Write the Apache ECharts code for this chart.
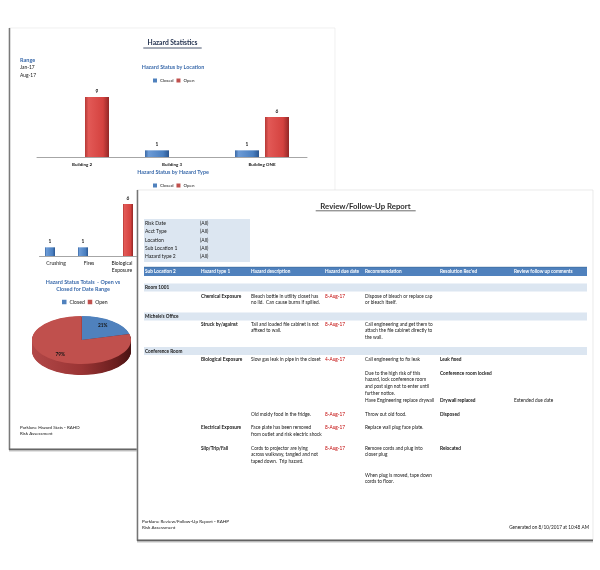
<!DOCTYPE html>
<html><head><meta charset="utf-8">
<script src="https://cdn.jsdelivr.net/npm/echarts@6/dist/echarts.min.js"></script>
<style>html,body{margin:0;padding:0;background:#fff}#c{width:600px;height:570px}</style>
</head><body><div id="c"></div>
<script>
// ---------- data ----------
const seriesNames = ['Closed', 'Open'];
const locationCategories = ['Building 2', 'Building 3', 'Building ONE'];
const locationClosed = ['-', 1, 1];
const locationOpen = [9, '-', 6];
const hazardTypeCategories = ['Crushing', 'Fires', 'Biological\nExposure'];
const hazardTypeClosed = [1, 1, '-'];
const hazardTypeOpen = ['-', '-', 6];
const totalsNames = ['Closed', 'Open'];
const totalsPercent = [21, 79];
const rangeLabels = ['Jan-17', 'Aug-17'];
const filterLabels = ['Risk Date', 'Acct Type', 'Location', 'Sub Location 1', 'Hazard type 2'];
const filterValues = ['(All)', '(All)', '(All)', '(All)', '(All)'];
const tableHeaders = ['Sub Location 2', 'Hazard type 1', 'Hazard description', 'Hazard due date', 'Recommendation', "Resolution Rec'ed", 'Review follow up comments'];
const tableRows = [
  ['group', 'Room 1001'],
  ['', 'Chemical Exposure', 'Bleach bottle in utility closet has\nno lid.  Can cause burns if spilled.', '8-Aug-17', 'Dispose of bleach or replace cap\nor bleach itself.', '', ''],
  ['group', "Michele's Office"],
  ['', 'Struck by/against', 'Tall and loaded file cabinet is not\naffixed to wall.', '8-Aug-17', 'Call engineering and get them to\nattach the file cabinet directly to\nthe wall.', '', ''],
  ['group', 'Conference Room'],
  ['', 'Biological Exposure', 'Slow gas leak in pipe in the closet', '4-Aug-17', 'Call engineering to fix leak', 'Leak fixed', ''],
  ['', '', '', '', 'Due to the high risk of this\nhazard, lock conference room\nand post sign not to enter until\nfurther notice.', 'Conference room locked', ''],
  ['', '', '', '', 'Have Engineering replace drywall', 'Drywall replaced', 'Extended due date'],
  ['', '', 'Old moldy food in the fridge.', '8-Aug-17', 'Throw out old food.', 'Disposed', ''],
  ['', 'Electrical Exposure', 'Face plate has been removed\nfrom outlet and risk electric shock', '8-Aug-17', 'Replace wall plug face plate.', '', ''],
  ['', 'Slip/Trip/Fall', 'Cords to projector are lying\nacross walkway, tangled and not\ntaped down.  Trip hazard.', '8-Aug-17', 'Remove cords and plug into\ncloser plug', 'Relocated', ''],
  ['', '', '', '', 'When plug is moved, tape down\ncords to floor.', '', '']
];

// ---------- layout / style ----------
const F = 'Lato, "Open Sans", sans-serif';
const BLUE = '#4f81bd', RED = '#c0504d', TITLE = '#3a6aab', INK = '#161616';
const colX = [145, 201, 251, 325, 365, 440, 514];
const rowY = [287.5, 296, 316.5, 324, 351, 359, 373, 400, 414, 427.5, 448, 475];
const LH = 6.9;
const BODY = 4.75;

function txt(x, y, s, o) {
  o = o || {};
  const size = o.size || BODY;
  const lh = o.lh || LH;
  return {
    type: 'text', x: x, y: y - lh / 2, z: o.z == null ? 101 : o.z, silent: true,
    style: {
      text: s, x: 0, y: 0,
      font: (o.bold ? 'bold ' : '') + size + 'px ' + F,
      fill: o.color || INK,
      align: o.align || 'left', textAlign: o.align || 'left',
      verticalAlign: 'top', textVerticalAlign: 'top',
      lineHeight: lh
    }
  };
}
function line(x1, y1, x2, y2, color, w, z) {
  return { type: 'line', z: z, silent: true, shape: { x1: x1, y1: y1, x2: x2, y2: y2 }, style: { stroke: color, lineWidth: w } };
}
function rect(x, y, w, h, fill, z, stroke) {
  return { type: 'rect', z: z, silent: true, shape: { x: x, y: y, width: w, height: h }, style: { fill: fill, stroke: stroke || null, lineWidth: 0.6 } };
}

const g = [];
// back page
g.push(rect(9, 28, 326, 421, '#fff', -1, '#e6e6e6'));
g.push(line(9.5, 28, 9.5, 450, '#7a7a7a', 1.5, 0));
g.push(line(9, 449.5, 338, 449.5, '#666', 2, 0));
g.push(line(9, 451, 338, 451, '#c8c8c8', 1, 0));
g.push(txt(172.5, 43.3, 'Hazard Statistics', { bold: true, size: 6.7, color: '#1c2b4a', align: 'center', lh: 8, z: 10 }));
g.push(line(143.3, 48, 201.7, 48, '#1c2b4a', 0.8, 10));
g.push(txt(20, 60, 'Range', { bold: true, size: 5.5, color: TITLE, z: 10 }));
rangeLabels.forEach((r, i) => g.push(txt(20, 67.7 + i * 8, r, { size: 4.9, z: 10 })));
g.push(txt(20, 427.7, 'Parklane Hazard Stats - RAHD', { size: 4.5, z: 10, lh: 6.3 }));
g.push(txt(20, 434, 'Risk Assessment', { size: 4.5, z: 10, lh: 6.3 }));

// front page
g.push({ type: 'rect', z: 100, silent: true, shape: { x: 137, y: 190, width: 456, height: 350 }, style: { fill: '#fff', stroke: '#dcdcdc', lineWidth: 0.6 } });
g.push(line(137.5, 190, 137.5, 541, '#757575', 1.5, 100));
g.push(line(137, 540.5, 593, 540.5, '#626262', 2, 100));
g.push(line(137, 542, 593, 542, '#c4c4c4', 1, 100));
g.push(txt(365.5, 206.7, 'Review/Follow-Up Report', { bold: true, size: 7.8, color: '#2e2e2e', align: 'center', lh: 9 }));
g.push(line(315.7, 210.8, 415.7, 210.8, '#2e2e2e', 0.7, 101));
// filter box
g.push(rect(144, 219, 106, 43, '#dce6f1', 101));
filterLabels.forEach((f, i) => {
  g.push(txt(145, 223.3 + i * 8.35, f, { size: 5.0, z: 102 }));
  g.push(txt(200, 223.3 + i * 8.35, filterValues[i], { size: 5.0, z: 102 }));
});
// header
g.push(rect(144, 267, 443, 9, BLUE, 101));
g.push(line(144, 267.2, 587, 267.2, '#3a6698', 0.6, 102));
tableHeaders.forEach((h, i) => g.push(txt(colX[i], 271.6, h, { bold: true, size: 4.7, color: '#fff', z: 102 })));
// rows
tableRows.forEach((row, r) => {
  const y = rowY[r];
  if (row[0] === 'group') {
    g.push(rect(144, y - 4, 443, 8, '#dce6f1', 101));
    g.push(txt(145, y, row[1], { bold: true, size: 4.7, z: 102 }));
  } else {
    row.forEach((cell, c) => {
      if (!cell) return;
      g.push(txt(colX[c], y, cell, { color: c === 3 ? '#c00000' : INK, bold: c === 5 || c === 1, z: 102 }));
    });
  }
});
g.push(txt(142, 521.7, 'Parklane Review/Follow-Up Report - RAHP', { size: 4.6, lh: 6 }));
g.push(txt(142, 527.7, 'Risk Assessment', { size: 4.6, lh: 6 }));
g.push(txt(589, 527, 'Generated on 8/10/2017 at 10:48 AM', { size: 4.7, align: 'right' }));

// ---------- chart styles ----------
function grad(stops) { return { type: 'linear', x: 0, y: 0, x2: 1, y2: 0, colorStops: stops.map((c, i) => ({ offset: [0, 0.15, 0.75, 1][i], color: c })) }; }
const redBar = grad(['#b53936', '#e25956', '#d4423f', '#922826']);
const blueBar = grad(['#3b69a5', '#6c9bd6', '#4a7fc0', '#2b5690']);
const barLabel = { show: true, position: 'top', distance: 3, fontSize: 4.8, fontWeight: 'bold', color: INK, fontFamily: F };
const legendBase = {
  data: [{ name: 'Closed', itemStyle: { color: BLUE } }, { name: 'Open', itemStyle: { color: RED } }],
  icon: 'rect', itemWidth: 4, itemHeight: 4, itemGap: 3, padding: 0, selectedMode: false,
  textStyle: { fontSize: 4.5, color: INK, fontFamily: F, padding: [0, 0, 0, -2] }
};
const titleStyle = { fontSize: 5.4, fontWeight: 'bold', color: TITLE, fontFamily: F };

const sideGrad = [
  { type: 'linear', global: true, x: -50, y: 0, x2: 50, y2: 0, colorStops: [{ offset: 0, color: '#35608f' }, { offset: 1, color: '#1d3a5e' }] },
  { type: 'linear', global: true, x: -50, y: 0, x2: 50, y2: 0, colorStops: [{ offset: 0, color: '#b24848' }, { offset: 0.5, color: '#9a3434' }, { offset: 0.85, color: '#6a1e1e' }, { offset: 1, color: '#471212' }] }
];
const topFill = [BLUE, RED];

const option = {
  animation: false,
  backgroundColor: '#fff',
  title: [
    { text: 'Hazard Status by Location', left: 173, top: 65.2, textAlign: 'center', padding: 0, textStyle: titleStyle },
    { text: 'Hazard Status by Hazard Type', left: 173, top: 170.2, textAlign: 'center', padding: 0, textStyle: titleStyle },
    { text: 'Hazard Status Totals  - Open vs\nClosed for Date Range', left: 83, top: 278.5, textAlign: 'center', padding: 0, textStyle: Object.assign({}, titleStyle, { lineHeight: 7 }) }
  ],
  legend: [
    Object.assign({}, legendBase, { left: 153, top: 78 }),
    Object.assign({}, legendBase, { left: 153, top: 183 }),
    Object.assign({}, legendBase, { left: 62, top: 299.5, itemWidth: 4.5, itemHeight: 4.5, textStyle: Object.assign({}, legendBase.textStyle, { fontSize: 5.1 }) })
  ],
  grid: [
    { left: 37, top: 97, width: 270, height: 60 },
    { left: 39.5, top: 204, width: 99, height: 52 }
  ],
  xAxis: [
    { type: 'category', gridIndex: 0, data: locationCategories, axisTick: { show: false },
      axisLine: { lineStyle: { color: '#a6a6a6', width: 1 } },
      axisLabel: { interval: 0, margin: 5, fontSize: 4.5, fontWeight: 'bold', color: INK, fontFamily: F } },
    { type: 'category', gridIndex: 1, data: hazardTypeCategories, axisTick: { show: false },
      axisLine: { lineStyle: { color: '#a6a6a6', width: 1 } },
      axisLabel: { interval: 0, margin: 4.5, fontSize: 5, color: INK, fontFamily: F, lineHeight: 6.5 } }
  ],
  yAxis: [
    { type: 'value', gridIndex: 0, min: 0, max: 9, show: false },
    { type: 'value', gridIndex: 1, min: 0, max: 6, show: false }
  ],
  series: [
    { name: seriesNames[0], type: 'bar', xAxisIndex: 0, yAxisIndex: 0, data: locationClosed, barWidth: 24, barGap: '25%', itemStyle: { color: blueBar }, label: barLabel },
    { name: seriesNames[1], type: 'bar', xAxisIndex: 0, yAxisIndex: 0, data: locationOpen, barWidth: 24, barGap: '25%', itemStyle: { color: redBar }, label: barLabel },
    { name: seriesNames[0], type: 'bar', xAxisIndex: 1, yAxisIndex: 1, data: hazardTypeClosed, barWidth: 10, barGap: '20%', itemStyle: { color: blueBar }, label: barLabel },
    { name: seriesNames[1], type: 'bar', xAxisIndex: 1, yAxisIndex: 1, data: hazardTypeOpen, barWidth: 10, barGap: '20%', itemStyle: { color: redBar }, label: barLabel },
    {
      name: 'Hazard Status Totals', type: 'custom', coordinateSystem: 'none', silent: true,
      data: totalsNames.map((n, i) => ({ name: n, value: totalsPercent[i] })),
      renderItem: function (params, api) {
        const idx = params.dataIndex;
        const total = totalsPercent.reduce((a, b) => a + b, 0);
        let start = -Math.PI / 2;
        for (let i = 0; i < idx; i++) start += totalsPercent[i] / total * 2 * Math.PI;
        const end = start + api.value(0) / total * 2 * Math.PI;
        const R = 49.5, sy = 24 / 49.5, depth = 11, cx = 81.5, cy = 340;
        const kids = [];
        for (let k = depth; k >= 0.5; k -= 0.5) {
          kids.push({ type: 'sector', shape: { cx: 0, cy: k / sy, r: R, r0: 0, startAngle: start, endAngle: end, clockwise: true }, style: { fill: sideGrad[idx] } });
        }
        kids.push({ type: 'sector', shape: { cx: 0, cy: 0, r: R, r0: 0, startAngle: start, endAngle: end, clockwise: true }, style: { fill: topFill[idx] } });
        const mid = (start + end) / 2;
        return {
          type: 'group', children: [
            { type: 'group', x: cx, y: cy, scaleY: sy, children: kids },
            { type: 'text', x: cx + R * 0.7 * Math.cos(mid), y: cy + R * sy * 0.78 * Math.sin(mid),
              style: { text: api.value(0) + '%', font: 'bold 4.8px ' + F, fill: INK, align: 'center', verticalAlign: 'middle' } }
          ]
        };
      }
    }
  ],
  graphic: { elements: g }
};
const chart = echarts.init(document.getElementById('c'));
chart.setOption(option);
</script></body></html>
